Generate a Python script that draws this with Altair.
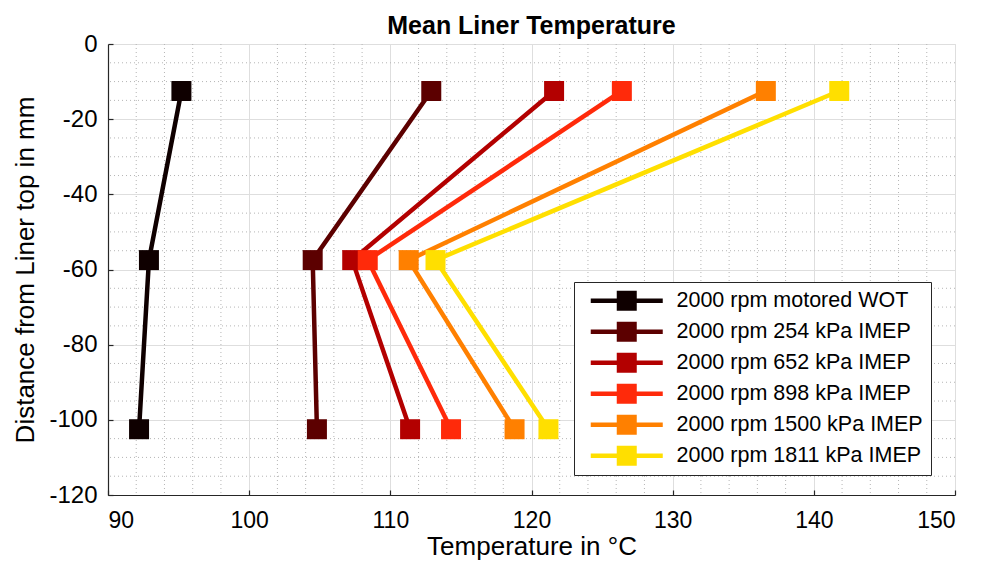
import altair as alt
import pandas as pd

# Measurement positions along the liner (mm from top) and mean temperatures (°C)
depth_mm = [-12.5, -57.5, -102.5]
series_names = [
    "2000 rpm motored WOT",
    "2000 rpm 254 kPa IMEP",
    "2000 rpm 652 kPa IMEP",
    "2000 rpm 898 kPa IMEP",
    "2000 rpm 1500 kPa IMEP",
    "2000 rpm 1811 kPa IMEP",
]
temp_motored = [95.2, 92.9, 92.2]
temp_254 = [112.9, 104.5, 104.8]
temp_652 = [121.6, 107.3, 111.4]
temp_898 = [126.4, 108.4, 114.3]
temp_1500 = [136.6, 111.3, 118.8]
temp_1811 = [141.8, 113.2, 121.2]
series_colors = ["#0f0000", "#5c0000", "#b30000", "#ff2a0a", "#ff8000", "#ffdf00"]

# Major and minor grid positions
x_major = list(range(90, 151, 10))
y_major = list(range(-120, 1, 20))
x_minor = [v for v in range(92, 150, 2) if v % 10 != 0]
y_minor = [v for v in range(-115, 0, 5) if v % 20 != 0]

all_temps = [temp_motored, temp_254, temp_652, temp_898, temp_1500, temp_1811]
rows = []
for name, temps in zip(series_names, all_temps):
    for order, (t, d) in enumerate(zip(temps, depth_mm)):
        rows.append({"series": name, "temp": t, "depth": d, "order": order})
df = pd.DataFrame(rows)

FONT = "Liberation Sans"

x_scale = alt.Scale(domain=[90, 150], nice=False, zero=False)
y_scale = alt.Scale(domain=[-120, 0], nice=False, zero=False)

x_axis = alt.Axis(
    title="Temperature in °C",
    values=x_major,
    labelExpr="'' + datum.value",
    grid=True, gridColor="#dedede", gridWidth=1,
    domainColor="#262626", domainWidth=1.2,
    tickSize=0, labelPadding=14, labelFontSize=23, labelColor="#000000",
    titleFontSize=26, titleFontWeight="normal", titlePadding=1, titleColor="#000000",
    labelFont=FONT, titleFont=FONT,
)
y_axis = alt.Axis(
    title="Distance from Liner top in mm",
    values=y_major,
    labelExpr="'' + datum.value",
    grid=True, gridColor="#dedede", gridWidth=1,
    domainColor="#262626", domainWidth=1.2,
    tickSize=0, labelPadding=11, labelFontSize=24, labelColor="#000000",
    titleFontSize=26, titleFontWeight="normal", titlePadding=10, titleColor="#000000",
    labelFont=FONT, titleFont=FONT,
)

# Short inward-pointing tick marks: an axis pulled 5 px into the plot
x_tick_axis = alt.Axis(
    orient="bottom", values=x_major, offset=-5, tickSize=5, tickColor="#262626",
    tickWidth=1.2, domain=False, labels=False, grid=False, title=None,
)
y_tick_axis = alt.Axis(
    orient="left", values=y_major, offset=-5, tickSize=5, tickColor="#262626",
    tickWidth=1.2, domain=False, labels=False, grid=False, title=None,
)

# Marker colours (these drive the legend)
marker_scale = alt.Scale(domain=series_names, range=series_colors)
# Line colours: same mapping, listed in reverse so the scale stays separate
line_scale = alt.Scale(domain=series_names[::-1], range=series_colors[::-1])

# Legend symbol: a thick horizontal bar with a square marker in the middle (all filled);
# one path unit = 10 px at symbolSize 400
legend = alt.Legend(
    title=None,
    orient="none",
    legendX=466,
    legendY=238,
    symbolType="M-3.6,-0.22H3.6V0.22H-3.6Z M-1,-1H1V1H-1Z",
    symbolSize=400,
    symbolStrokeWidth=0,
    symbolOpacity=1,
    symbolOffset=34,
    labelFontSize=21.5,
    labelFont=FONT,
    labelColor="#000000",
    labelOffset=39,
    rowPadding=8,
    padding=8,
    strokeColor="#262626",
    fillColor="#ffffff",
    labelLimit=400,
)

vgrid = alt.Chart(pd.DataFrame({"v": x_minor})).mark_rule(
    color="#b5b5b5", strokeDash=[1, 3], strokeWidth=1
).encode(x=alt.X("v:Q", scale=x_scale, axis=x_axis))

hgrid = alt.Chart(pd.DataFrame({"v": y_minor})).mark_rule(
    color="#b5b5b5", strokeDash=[1, 3], strokeWidth=1
).encode(y=alt.Y("v:Q", scale=y_scale, axis=y_axis))

lines = alt.Chart(df).mark_line(strokeWidth=4.5).encode(
    x=alt.X("temp:Q", scale=x_scale, axis=x_axis),
    y=alt.Y("depth:Q", scale=y_scale, axis=y_axis),
    stroke=alt.Stroke("series:N", scale=line_scale, legend=None),
    order="order:Q",
    detail="series:N",
)

squares = alt.Chart(df).mark_point(shape="square", filled=True, size=400, opacity=1).encode(
    x=alt.X("temp:Q", scale=x_scale, axis=x_axis),
    y=alt.Y("depth:Q", scale=y_scale, axis=y_axis),
    color=alt.Color("series:N", scale=marker_scale, legend=legend),
)

main = alt.layer(vgrid, hgrid, lines, squares)

tick_layer = alt.Chart(df).mark_point(opacity=0).encode(
    x=alt.X("temp:Q", scale=x_scale, axis=x_tick_axis),
    y=alt.Y("depth:Q", scale=y_scale, axis=y_tick_axis),
)

chart = alt.layer(main, tick_layer).resolve_axis(
    x="independent", y="independent"
).properties(
    width=847,
    height=451,
    title=alt.TitleParams(
        "Mean Liner Temperature", fontSize=25, fontWeight="bold", font=FONT,
        color="#000000", offset=-7,
    ),
    padding={"left": 12, "top": 14, "right": 5, "bottom": 3},
).configure_view(stroke="#d4d4d4", strokeWidth=1).configure(background="#ffffff")

chart.save("out.html", embed_options={"renderer": "svg", "actions": False})
